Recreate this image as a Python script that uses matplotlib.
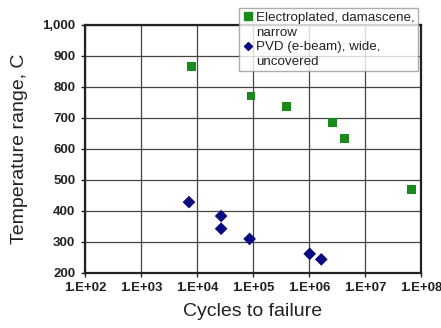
import numpy as np
import matplotlib.pyplot as plt
from matplotlib.lines import Line2D
from matplotlib.ticker import FixedLocator, FuncFormatter

plt.rcParams['font.family'] = ['Liberation Sans', 'DejaVu Sans']

# datos
ep_cycles = [8.0e3, 9.2e4, 4.0e5, 2.6e6, 4.3e6, 6.8e7]
ep_temp = [865, 771, 736, 685, 634, 469]
pvd_cycles = [7.2e3, 2.7e4, 2.7e4, 8.7e4, 1.03e6, 1.66e6]
pvd_temp = [428, 383, 342, 309, 261, 243]

x_ticks = [1e2, 1e3, 1e4, 1e5, 1e6, 1e7, 1e8]
y_ticks = [200, 300, 400, 500, 600, 700, 800, 900, 1000]

green = '#1a8a1a'
navy = '#0a0a80'

fig = plt.figure(figsize=(4.41, 3.28), dpi=100)
ax = fig.add_axes([0.1927, 0.1686, 0.7619, 0.7552])

ax.scatter(ep_cycles, ep_temp, marker='s', s=40, color=green,
           edgecolors='none', zorder=3)
ax.scatter(pvd_cycles, pvd_temp, marker='D', s=42, color=navy,
           edgecolors='none', zorder=3)

ax.set_xscale('log')
ax.set_xlim(1e2, 1e8)
ax.set_ylim(200, 1000)
ax.xaxis.set_major_locator(FixedLocator(x_ticks))
ax.xaxis.set_minor_locator(FixedLocator([]))
ax.xaxis.set_major_formatter(FuncFormatter(lambda v, p: '1.E+%02d' % int(round(np.log10(v)))))
ax.yaxis.set_major_locator(FixedLocator(y_ticks))
ax.yaxis.set_major_formatter(FuncFormatter(lambda v, p: '{:,.0f}'.format(v)))

ax.grid(True, color='#444444', linewidth=0.9)
ax.set_axisbelow(True)
for s in ax.spines.values():
    s.set_linewidth(1.6)
    s.set_color('#222222')
ax.tick_params(axis='both', labelsize=9.5, length=3, width=1, pad=4, color='#222222')
for lab in ax.get_xticklabels() + ax.get_yticklabels():
    lab.set_fontweight('bold')
    lab.set_color('#222222')

ax.set_xlabel('Cycles to failure', fontsize=14, labelpad=6, color='#222222')
ax.set_ylabel('Temperature range, C', fontsize=14, labelpad=10, color='#222222')

# leyenda: marcador alineado con la primera linea de cada etiqueta
h_ep = Line2D([], [], linestyle='none', marker='s', markersize=5.5, color=green)
h_pvd = Line2D([], [], linestyle='none', marker='D', markersize=4.5, color=navy)
h_none = Line2D([], [], linestyle='none')
leg = fig.legend([h_ep, h_none, h_pvd, h_none],
                 ['Electroplated, damascene,', 'narrow',
                  'PVD (e-beam), wide,', 'uncovered'],
                 loc='upper left', bbox_to_anchor=(0.542, 0.975), fontsize=9.6,
                 frameon=True, fancybox=False, edgecolor='#999999',
                 handletextpad=0.2, handlelength=0.8, borderpad=0.25,
                 labelspacing=0.18, borderaxespad=0)
leg.get_frame().set_linewidth(1.0)
for t in leg.get_texts():
    t.set_color('#222222')

plt.savefig('out.png', dpi=100)
